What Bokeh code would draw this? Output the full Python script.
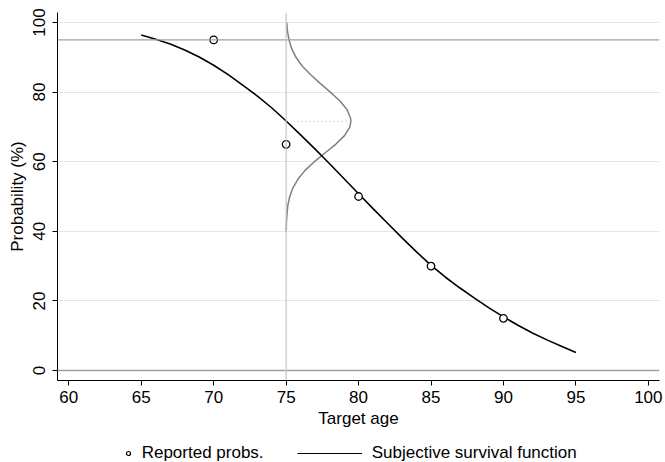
import numpy as np
from bokeh.plotting import figure
from bokeh.layouts import column
from bokeh.models import (Range1d, FixedTicker, Span, Legend, LegendItem)
from bokeh.embed import file_html
from bokeh.resources import INLINE

# ---------------- data ----------------
curve_ages = [65, 66, 67, 68, 69, 70, 71, 72, 73, 74, 75, 76, 77, 78, 79, 80,
              81, 82, 83, 84, 85, 86, 87, 88, 89, 90, 91, 92, 93, 94, 95]
curve_probs = [96.4, 95.2, 93.8, 92.1, 90.1, 87.7, 85.0, 82.0, 78.9, 75.5, 71.7,
               67.7, 63.6, 59.4, 55.1, 50.8, 46.5, 42.3, 38.1, 34.1, 30.2,
               26.8, 23.7, 20.8, 18.0, 15.4, 13.0, 10.8, 8.8, 7.0, 5.2]

reported_ages = [70, 75, 80, 85, 90]
reported_probs = [95, 65, 50, 30, 15]

current_age = 75
density_probs = [40, 42.5, 45, 47.5, 50, 52.5, 55, 57.5, 60, 62.5, 65, 67.5, 70,
                 71.6, 72.5, 75, 77.5, 80, 82.5, 85, 87.5, 90, 92.5, 95, 97.5, 100]
density_width = [0.01, 0.02, 0.06, 0.12, 0.25, 0.47, 0.82, 1.31, 1.95, 2.68, 3.42,
                 4.03, 4.40, 4.47, 4.45, 4.20, 3.70, 3.05, 2.35, 1.70, 1.10, 0.68,
                 0.38, 0.20, 0.09, 0.04]
density_mode = 71.6
dotted_start = 75.8

reference_prob = 95
x_ticks = [60, 65, 70, 75, 80, 85, 90, 95, 100]
y_ticks = [0, 20, 40, 60, 80, 100]

legend_labels = ["Reported probs.", "Subjective survival function"]

FONT = "Liberation Sans"
FS = "17px"
W = 665
H_MAIN = 430
H_LEG = 32

p = figure(width=W, height=H_MAIN, output_backend="svg", toolbar_location=None,
           x_range=Range1d(59.22, 100.77), y_range=Range1d(-2.87, 102.87),
           min_border_left=57, min_border_right=6, min_border_top=12,
           min_border_bottom=H_MAIN - 380)
p.outline_line_color = None
p.background_fill_color = "white"
p.border_fill_color = "white"

# grid
p.xgrid.grid_line_color = None
p.ygrid.grid_line_color = "#e6e6e6"
p.ygrid.grid_line_width = 1
p.ygrid.ticker = FixedTicker(ticks=y_ticks)

# axes
for ax in (p.xaxis[0], p.yaxis[0]):
    ax.axis_line_color = "black"
    ax.axis_line_width = 1
    ax.major_tick_line_color = "black"
    ax.major_tick_out = 5
    ax.major_tick_in = 0
    ax.minor_tick_line_color = None
    ax.major_label_text_font = FONT
    ax.major_label_text_font_size = FS
    ax.major_label_text_color = "black"
    ax.axis_label_text_font = FONT
    ax.axis_label_text_font_size = FS
    ax.axis_label_text_font_style = "normal"
    ax.axis_label_text_color = "black"

p.xaxis.major_label_standoff = 5
p.xaxis.axis_label_standoff = 3
p.yaxis.major_label_standoff = 7
p.yaxis.axis_label_standoff = 4

p.xaxis.ticker = FixedTicker(ticks=x_ticks)
p.yaxis.ticker = FixedTicker(ticks=y_ticks)
p.xaxis.axis_label = "Target age"
p.yaxis.axis_label = "Probability (%)"
p.yaxis.major_label_orientation = "vertical"

# reference lines
p.add_layout(Span(location=0, dimension="width", line_color="#a0a0a0", line_width=1.3))
p.add_layout(Span(location=reference_prob, dimension="width", line_color="#a0a0a0", line_width=1.3))
p.add_layout(Span(location=current_age, dimension="height", line_color="#c4c4c4", line_width=1.2))

# density of belief around current age
dens_x = current_age + np.array(density_width)
p.line(dens_x, density_probs, line_color="#808080", line_width=1.5)
peak_x = current_age + max(density_width)
p.line([dotted_start, peak_x], [density_mode, density_mode], line_color="#b0b0b0",
       line_width=1, line_dash="1 3")

# survival function
p.line(curve_ages, curve_probs, line_color="black", line_width=1.6)

# reported probabilities
p.scatter(reported_ages, reported_probs, marker="circle", size=7.5,
          line_color="black", line_width=1.3, fill_color="white")

# ---------------- legend strip (frame is aligned with the main frame) ----------------
q = figure(width=W, height=H_LEG, output_backend="svg", toolbar_location=None,
           x_range=Range1d(0, 1), y_range=Range1d(0, 1),
           x_axis_type=None, y_axis_type=None,
           min_border_left=0, min_border_right=0, min_border_top=0, min_border_bottom=0)
q.outline_line_color = None
q.xgrid.grid_line_color = None
q.ygrid.grid_line_color = None
q.background_fill_color = "white"
q.border_fill_color = "white"

# same series, drawn outside this strip's visible range: only used for the legend keys
r_leg_pts = q.scatter(reported_ages, reported_probs, marker="circle", size=6,
                      line_color="black", line_width=1.2, fill_color="white")
r_leg_line = q.line(curve_ages, curve_probs, line_color="black", line_width=1.2)

def make_legend(item, gw, loc, standoff):
    return Legend(items=[item], location=loc, orientation="horizontal",
                  glyph_width=gw, glyph_height=16, label_height=16,
                  label_standoff=standoff, padding=0, margin=0, spacing=0,
                  border_line_color=None, background_fill_alpha=0,
                  label_text_font=FONT, label_text_font_size=FS,
                  label_text_color="black")

q.add_layout(make_legend(LegendItem(label=legend_labels[0], renderers=[r_leg_pts]),
                         10, (65.7, -0.7), 9), "center")
q.add_layout(make_legend(LegendItem(label=legend_labels[1], renderers=[r_leg_line]),
                         65, (239.7, -0.7), 10), "center")

layout = column(p, q, spacing=0)
open("out.html", "w").write(file_html(layout, INLINE))
